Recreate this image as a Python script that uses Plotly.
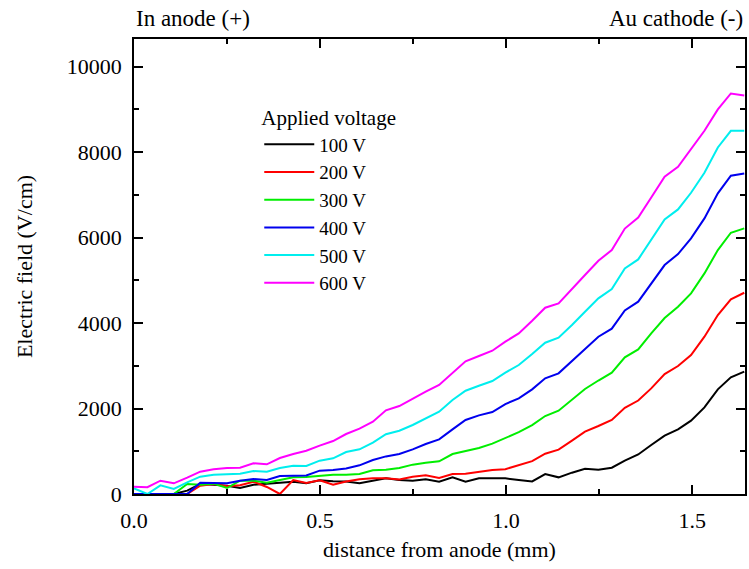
import plotly.graph_objects as go

distance_mm = [0.000, 0.036, 0.071, 0.107, 0.143, 0.178, 0.214, 0.250, 0.285, 0.321,
               0.357, 0.392, 0.428, 0.463, 0.499, 0.535, 0.570, 0.606, 0.642, 0.677,
               0.713, 0.749, 0.784, 0.820, 0.856, 0.891, 0.927, 0.963, 0.998, 1.034,
               1.070, 1.105, 1.141, 1.177, 1.212, 1.248, 1.284, 1.319, 1.355, 1.390,
               1.426, 1.462, 1.497, 1.533, 1.569, 1.604, 1.640]

field_100V = [0, 0, 0, 0, 78, 234, 218, 195, 140, 218,
              242, 265, 288, 250, 320, 300, 290, 250, 304, 367,
              328, 312, 343, 289, 390, 289, 367, 367, 367, 328,
              295, 468, 390, 499, 590, 565, 616, 780, 925, 1147,
              1365, 1513, 1716, 2028, 2449, 2730, 2863]
field_200V = [0, 0, 0, 0, 0, 195, 234, 179, 203, 288,
              164, 0, 327, 260, 320, 215, 292, 347, 370, 367,
              340, 405, 437, 375, 468, 476, 523, 562, 580, 670,
              770, 944, 1038, 1248, 1459, 1591, 1732, 2016, 2188, 2472,
              2808, 2995, 3253, 3682, 4189, 4555, 4711]
field_300V = [0, 0, 0, 0, 234, 218, 242, 140, 312, 312,
              265, 327, 390, 395, 430, 450, 450, 470, 555, 570,
              610, 687, 730, 765, 936, 1014, 1076, 1178, 1315, 1447,
              1611, 1825, 1950, 2208, 2457, 2656, 2840, 3198, 3385, 3760,
              4120, 4383, 4696, 5164, 5710, 6115, 6217]
field_400V = [0, 0, 0, 0, 0, 265, 265, 250, 312, 351,
              327, 421, 429, 433, 546, 562, 597, 671, 796, 880,
              936, 1045, 1170, 1279, 1513, 1732, 1841, 1919, 2106, 2239,
              2449, 2707, 2824, 3112, 3409, 3682, 3869, 4298, 4501, 4914,
              5359, 5616, 5983, 6451, 7036, 7449, 7504]
field_500V = [133, 0, 203, 117, 273, 406, 453, 468, 476, 538,
              523, 608, 663, 655, 780, 835, 983, 1045, 1201, 1400,
              1482, 1615, 1771, 1927, 2200, 2418, 2535, 2644, 2840, 3019,
              3276, 3541, 3659, 3955, 4267, 4579, 4797, 5281, 5491, 5944,
              6427, 6661, 7051, 7519, 8112, 8502, 8502]
field_600V = [171, 160, 311, 250, 382, 523, 577, 608, 616, 718,
              694, 842, 936, 1014, 1131, 1240, 1404, 1529, 1693, 1958,
              2059, 2239, 2394, 2551, 2840, 3105, 3229, 3354, 3565, 3760,
              4056, 4360, 4462, 4789, 5125, 5460, 5710, 6213, 6470, 6942,
              7426, 7660, 8065, 8502, 9001, 9375, 9329]

x_tick_vals = [0, 0.5, 1.0, 1.5]
x_tick_text = ["0.0", "0.5", "1.0", "1.5"]
y_tick_vals = [0, 2000, 4000, 6000, 8000, 10000]
y_tick_text = ["0", "2000", "4000", "6000", "8000", "10000"]

series_names = ["100 V", "200 V", "300 V", "400 V", "500 V", "600 V"]
series_values = [field_100V, field_200V, field_300V, field_400V, field_500V, field_600V]
series_colors = ["#000000", "#ff0000", "#00ee00", "#0000ee", "#00eeee", "#ff00ff"]

FONT = "Liberation Serif, Times New Roman, Times, serif"

fig = go.Figure()
for name, vals, col in zip(series_names, series_values, series_colors):
    fig.add_trace(go.Scatter(x=distance_mm, y=vals, mode="lines", name=name,
                             line=dict(color=col, width=2)))

axis_common = dict(
    showgrid=False, zeroline=False, showline=True, linecolor="black", linewidth=1.5,
    mirror="allticks", ticks="inside", ticklen=9, tickwidth=1.5, tickcolor="black",
    tickfont=dict(family=FONT, size=22, color="black"), ticklabelstandoff=6,
)

fig.update_layout(
    width=749, height=569,
    margin=dict(l=134, r=2, t=39, b=75),
    paper_bgcolor="white", plot_bgcolor="white",
    font=dict(family=FONT, size=22, color="black"),
    xaxis=dict(range=[0, 1.642], tickmode="array", tickvals=x_tick_vals,
               ticktext=x_tick_text,
               minor=dict(tickvals=[0.25, 0.75, 1.25], ticks="inside", ticklen=5,
                          tickwidth=1.5, tickcolor="black"),
               title=dict(text="distance from anode (mm)", standoff=9,
                          font=dict(family=FONT, size=22)),
               **axis_common),
    yaxis=dict(range=[0, 10650], tickmode="array", tickvals=y_tick_vals,
               ticktext=y_tick_text,
               minor=dict(tickvals=[1000, 3000, 5000, 7000, 9000], ticks="inside",
                          ticklen=5, tickwidth=1.5, tickcolor="black"),
               title=dict(text="Electric field (V/cm)", standoff=28,
                          font=dict(family=FONT, size=22)),
               **axis_common),
    showlegend=True,
    legend=dict(x=0.205, y=0.87, xanchor="left", yanchor="top",
                bgcolor="rgba(0,0,0,0)", borderwidth=0, itemwidth=50,
                font=dict(family=FONT, size=19),
                title=dict(text="Applied voltage", font=dict(family=FONT, size=21)),
                tracegroupgap=0),
    annotations=[
        dict(text="In anode (+)", xref="paper", yref="paper", x=0, y=1.0,
             yshift=6, xanchor="left", yanchor="bottom", showarrow=False,
             font=dict(family=FONT, size=23)),
        dict(text="Au cathode (-)", xref="paper", yref="paper", x=1.0, y=1.0,
             yshift=6, xanchor="right", yanchor="bottom", showarrow=False,
             font=dict(family=FONT, size=23)),
    ],
)

fig.write_html("out.html")
